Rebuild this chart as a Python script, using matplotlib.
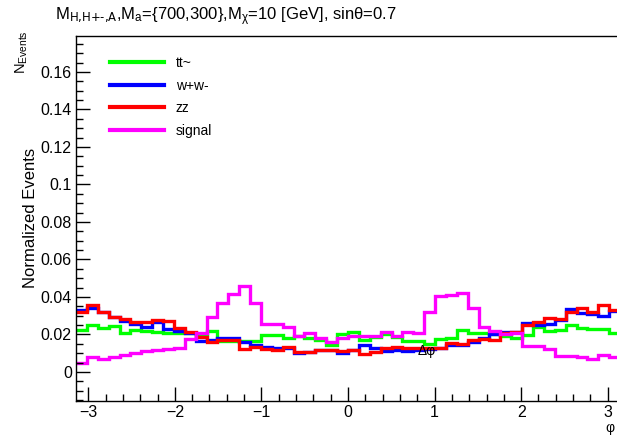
#!/usr/bin/env python3

import numpy as np
import matplotlib
matplotlib.use("Agg")
import matplotlib.pyplot as plt
from matplotlib.ticker import MultipleLocator

plt.rcParams['font.family'] = ['Liberation Sans', 'DejaVu Sans']
plt.rcParams['mathtext.default'] = 'regular'

# 50 bins from -pi to pi
edges = np.linspace(-np.pi, np.pi, 51)

tt = [0.0224, 0.025, 0.0233, 0.0245, 0.0206, 0.0224, 0.0219, 0.0214, 0.021, 0.0208,
      0.0206, 0.020, 0.022, 0.0167, 0.0167, 0.0167, 0.0167, 0.0197, 0.0195, 0.018,
      0.019, 0.018, 0.017, 0.0145, 0.020, 0.0212, 0.017, 0.0185, 0.020, 0.0185,
      0.0165, 0.0165, 0.015, 0.0175, 0.018, 0.0224, 0.021, 0.021, 0.020, 0.019,
      0.018, 0.0197, 0.0242, 0.022, 0.0225, 0.025, 0.0235, 0.023, 0.0228, 0.021]

ww = [0.033, 0.034, 0.032, 0.0295, 0.0274, 0.0256, 0.024, 0.0268, 0.0228, 0.022,
      0.0206, 0.0167, 0.017, 0.018, 0.018, 0.0162, 0.0144, 0.0135, 0.0126, 0.0126,
      0.010, 0.0108, 0.0117, 0.0117, 0.010, 0.0117, 0.0144, 0.0126, 0.0112, 0.0117,
      0.0112, 0.0117, 0.012, 0.0126, 0.0144, 0.0144, 0.0162, 0.018, 0.020, 0.0215,
      0.0215, 0.0263, 0.025, 0.0255, 0.0277, 0.0334, 0.0316, 0.031, 0.030, 0.0327]

zz = [0.032, 0.0357, 0.032, 0.0295, 0.028, 0.0268, 0.0268, 0.0277, 0.0273, 0.0233,
      0.0215, 0.0188, 0.0162, 0.017, 0.017, 0.0123, 0.0135, 0.0123, 0.0117, 0.0135,
      0.0108, 0.0108, 0.0117, 0.0117, 0.011, 0.0117, 0.0096, 0.0108, 0.0126, 0.0135,
      0.0126, 0.0126, 0.0126, 0.013, 0.0153, 0.015, 0.017, 0.0175, 0.017, 0.021,
      0.0215, 0.025, 0.0268, 0.0286, 0.028, 0.0322, 0.034, 0.032, 0.0357, 0.033]

signal = [0.0045, 0.008, 0.0068, 0.008, 0.009, 0.010, 0.011, 0.0115, 0.012, 0.013,
          0.0176, 0.021, 0.0295, 0.037, 0.0418, 0.0456, 0.0368, 0.0256, 0.0256, 0.024,
          0.019, 0.021, 0.018, 0.016, 0.018, 0.019, 0.019, 0.019, 0.0215, 0.019,
          0.0215, 0.021, 0.032, 0.0405, 0.041, 0.042, 0.034, 0.024, 0.022, 0.020,
          0.0205, 0.014, 0.014, 0.012, 0.0085, 0.0085, 0.0078, 0.0068, 0.009, 0.0078]

series = [("tt~", tt, "#00ff00"), ("w+w-", ww, "#0000ff"),
          ("zz", zz, "#ff0000"), ("signal", signal, "#ff00ff")]

fig = plt.figure(figsize=(6.17, 4.36), dpi=100)
ax = fig.add_axes([0.1232, 0.0803, 0.8817, 0.8372])

for name, vals, col in series:
    ax.stairs(vals, edges, color=col, linewidth=2.4, label=name, baseline=None)

ax.set_xlim(-np.pi, np.pi)
ax.set_ylim(-0.0155, 0.1792)

ax.xaxis.set_minor_locator(MultipleLocator(0.2))
ax.yaxis.set_minor_locator(MultipleLocator(0.005))
ax.set_yticks([0, 0.02, 0.04, 0.06, 0.08, 0.1, 0.12, 0.14, 0.16])
ax.set_yticklabels(["0", "0.02", "0.04", "0.06", "0.08", "0.1", "0.12", "0.14", "0.16"])
ax.set_xticks([-3, -2, -1, 0, 1, 2, 3])
ax.set_xticklabels(["\u22123", "\u22122", "\u22121", "0", "1", "2", "3"])
ax.tick_params(which="both", direction="in", top=False, right=False, labelsize=11.5)
ax.tick_params(which="major", length=10, width=1)
ax.tick_params(which="minor", length=5, width=1)
ax.tick_params(axis="y", pad=3)
ax.tick_params(axis="x", pad=3)
for s in ax.spines.values():
    s.set_linewidth(1)

ax.text(0.91, 0.0112, "\u0394\u03c6", ha="center", va="center", fontsize=10)

leg = ax.legend(loc="upper left", bbox_to_anchor=(0.062, 0.945), frameon=False,
                fontsize=10, handlelength=3.9, handletextpad=0.85,
                labelspacing=0.62, borderpad=0, borderaxespad=0)
for line in leg.get_lines():
    line.set_linewidth(3)

title = (r"M$_{\text{H,H+-,A}}$,M$_{a}$={700,300},M$_{\chi}$=10 [GeV], sin"
         + "\u03b8=0.7")
fig.text(0.089, 0.962, title, fontsize=12, ha="left", va="center")
fig.text(0.036, 0.88, r"N$_{Events}$", rotation=90, fontsize=10.5, ha="center", va="center")
fig.text(0.049, 0.50, "Normalized Events", rotation=90, fontsize=12, ha="center", va="center")
fig.text(0.988, 0.018, "\u03c6", fontsize=10, ha="center", va="center")

plt.savefig("out.png", dpi=100)
